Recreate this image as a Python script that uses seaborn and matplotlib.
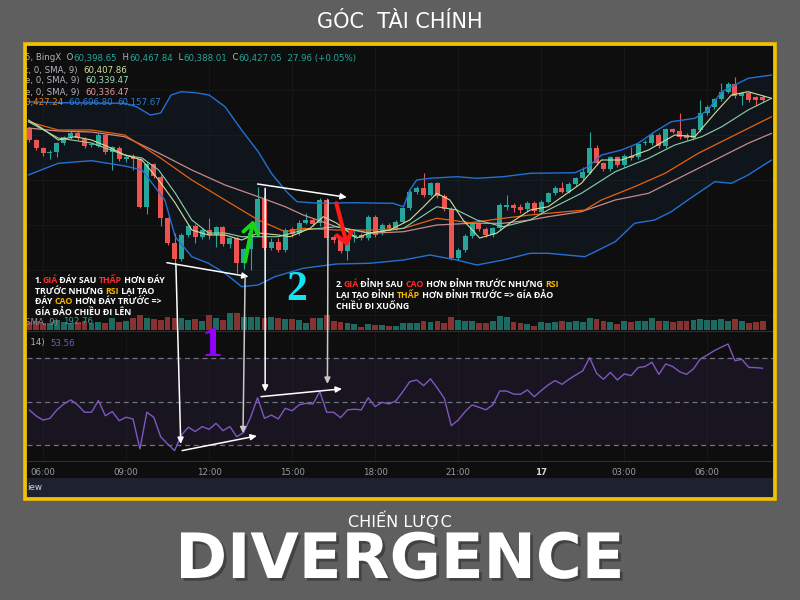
import numpy as np
import matplotlib
matplotlib.use("Agg")
import matplotlib.pyplot as plt
import seaborn as sns
from matplotlib.patches import Rectangle, ConnectionPatch
import matplotlib.patheffects as pe

# ---------------- data (15m candles, price in chart units) ----------------
candle_open = [171.7,160,151.7,146.7,148.3,156.7,162.7,167.3,161,155,
               154,165,148.3,152,140.7,143.3,140.7,92.7,136,123.3,
               81.7,57.3,40.7,65,74.3,63.3,70,65,72.7,56,
               62,37.3,50.7,66.7,100.7,51.7,58.3,50,71,66.7,
               77.3,80,76.7,100,63,61,49.3,63,65,61.7,
               83,66.7,75,71.7,78.3,91.7,108.3,112,105,116.7,
               104,90.7,41.7,50,64,76,70.7,65,71.7,93,
               95,93.3,90.7,97.3,88.3,98.3,106.7,112.3,108.3,116,
               121.7,127.3,151.7,136.7,130.7,142.7,135,144,142.7,156.7,
               157.3,165,154,170.7,169.3,165,161.7,170,186.7,192.7,
               200.7,208.3,216,204,206.7,202.7,203.3]
candle_high = [173,161,153,150,158,164,169,170,163,157,
               167,166,154,154,145,146,142,138,137,125,
               83,67,67,76,76,72,82,74,74,63,
               63,52,70,113,104,62,62,72,73,80,
               87,82,102,102,65,63,64,70,67,85,
               85,77,77,80,93,110,114,127,118,118,
               106,93,52,66,78,78,73,73,97,105,
               97,96,99,99,100,108,114,118,118,123,
               133,168,155,138,144,144,146,153,158,160,
               167,167,172,172,187,167,172,200,195,202,
               217,218,223,208,208,204,205]
candle_low = [158,150,144,140.7,143,155,161,160,152,153,
              153,146,130,139,138,130,92,86,122,74,
              55,37,39,63,57,61,61,53,54,52,
              27,31,30,64,50,50,48,48,63,65,
              76,74,74,60,57,47,40,58,60,60,
              63,65,70,70,77,90,106,103,104,102,
              89,40,40,48,62,69,63,63,70,90,
              88,87,89,87,86,97,105,107,107,114,
              120,126,135,129,129,133,133,140,141,155,
              155,152,152,167,161,160,160,168,185,191,
              199,207,202,195,198,195,198]
candle_close = [160,151.7,146.7,148.3,156.7,162.7,167.3,161.7,154,155.5,
                165,148.3,152.7,140.7,143.3,140.7,92.7,136,124,81.7,
                57.3,40.7,65,74.3,63.3,70,65,72.7,56,61.7,
                37.3,50.7,66.7,100.7,51.7,58.3,50,70,66,77.3,
                80,76,100,61.7,60,49.3,62,65,62,83,
                65,75,71.7,78.3,91.7,108.3,112,105,116.7,104,
                90.7,41.7,50,64,76,70.7,65,71.7,95,95,
                91.7,90,97.3,89.3,98.3,106.7,112.3,108.3,116,121.7,
                128.3,151.7,136.7,130.7,142.7,135,144,141.7,156,158.3,
                165,154,170.7,168.3,163.3,161.7,170.7,186.7,193.3,200.7,
                208.3,216,204,206.7,200,200,200]
volume = [25,28,22,20,30,25,22,24,26,22,
          25,22,35,25,28,35,45,35,32,30,
          40,35,35,30,32,28,45,35,30,52,
          52,40,40,40,35,38,35,32,32,30,
          22,35,35,45,28,25,20,18,10,18,
          15,15,12,12,22,22,22,27,23,27,
          20,38,30,27,27,20,20,28,42,40,
          23,22,18,13,23,22,23,27,25,27,
          25,35,33,28,24,18,28,23,27,27,
          35,28,27,23,28,28,30,33,30,30,
          33,28,33,27,22,23,27]
rsi14 = [46.2,43.4,41.5,42.3,46.2,48.9,50.8,48.5,45.1,45.1,
         50.5,43.5,45.4,41.2,42.8,42.0,28.2,45.1,42.8,33.8,
         30.5,27.4,34.6,38.2,36.2,38.5,37.2,40.0,36.6,38.5,
         33.8,35.8,42.8,51.8,42.3,43.8,42.0,46.9,45.8,48.5,
         49.2,48.9,54.6,45.1,45.1,42.6,46.2,46.5,46.2,51.8,
         47.7,49.7,48.9,50.4,54.6,59.2,60.0,57.4,60.5,56.2,
         51.5,38.9,41.5,45.4,48.5,47.4,46.2,48.5,54.9,54.9,
         53.5,53.4,55.4,52.3,55.1,57.7,59.7,58.0,60.3,62.3,
         64.2,70.3,63.1,60.3,63.5,60.0,62.8,62.0,65.7,66.2,
         68.2,62.6,67.4,66.2,63.8,62.6,65.1,69.7,71.5,73.5,
         75.1,76.6,68.9,69.5,65.8,65.7,65.4]

bb_upper_t = [-0.2,4,9,13.8,15.5,17.5,19,20.5,22,24,26,28.3,30.7,33.1,35,37.2,38.7,42,46.8,52.6,
              54.1,55,56,57.9,61.8,64.7,68.5,72.4,78.9,80.8,82.7,85.6,88,90.4,92.8,96.2,98.1,100.1,103.9,107.3]
bb_upper = [198.3,197.3,197,196.7,193.3,185,187,205,208.3,207.3,205,193.3,170,148.3,126.7,108.3,98.3,96.7,97.3,96.7,
            93.3,110,120,121.7,123.3,121.7,123.3,126.7,127.3,133.3,145,150,156.7,168.3,178.3,181.7,190,208.3,221.7,225]
bb_lower_t = [-0.13,4.2,9,13.8,16.3,19.6,21.1,23.5,25.9,28.3,30.7,33.1,35.5,39.6,44.4,49.2,54.1,57.9,61.8,64.7,
              68.5,72.4,75,80.3,81.8,84.7,87.5,90.4,92.8,95.2,99.1,101.5,103.9,107.3]
bb_lower = [125,136.7,139.3,134,130,100,63.3,43.3,36.7,26.7,13.3,15,23.3,31.7,36,36.7,40,45,40,35,
            40,46.7,46.7,43.3,48.3,58.3,76.7,80,88.3,100,118.3,116.7,125,140]
bb_basis_t = [-0.13,4.2,9,13.8,18.7,23.5,28.3,33.1,37,39.6,44.4,49.2,54.1,58.9,63.7,68.5,72.4,75,80.3,82.7,
              87.5,91.9,96.7,101.5,107.3]
bb_basis = [178.3,170,170,165,143.3,120,100,80,68.3,71.7,70,70,71.7,81.7,77.3,81.7,85,86.7,90,100,
            113.3,126.7,146.7,163.3,183.3]
sma_slow_t = [-0.13,4.2,9,13.8,18.7,23.5,28.3,33.1,37,39.6,44.4,49.2,54.1,58.9,63.7,68.5,72.4,75,79.8,84.7,
              89.5,94.3,99.1,103.9,107.3]
sma_slow = [172,169,168,163.3,147,130,115,103.3,93.3,85,73.3,66.7,68.3,75,76.7,76.7,80,83.3,88.3,100,
            106.7,123.3,140,156.7,166.7]
sma_fast_t = [-0.13,1.8,4.2,6.6,9,11.4,13.8,16.3,18.7,21.1,23.5,25.9,28.3,30.7,33.1,36,37.7,40.6,42.5,44.4,
              47.3,49.2,52.1,55,57,58.9,60.8,62.7,65.1,67.6,69.5,72.4,75,79.8,82.7,85.6,89.5,93.3,96.2,99.1,
              101.5,103.9,107.3]
sma_fast = [180,172,160,163.3,160,153.3,145,140,120,97,70,65,65,60,67,65,63.3,71.7,83.3,77,
            62,67,70,80,93.3,106.7,100,80,62,67,77,90,93.3,116.7,140,140,150,165,163.3,186.7,
            205,208.3,201.7]
sma_mid_t = [-0.13,4.2,9,13.8,16.3,18.7,21.1,23.5,25.9,28.3,30.7,33.1,36,39.6,44.4,49.2,54.1,58.9,61.8,64.7,
             68.5,72.4,75,79.8,84.7,89.5,93.3,97.2,100.1,103.9,107.3]
sma_mid = [178.3,162,157,145,142,130,107,80,67,67,63.3,63.3,63.3,70,73.3,67,71.7,93.3,90,80,
           73.3,80,90,106.7,128.3,141.7,155,163.3,173.3,190,201.7]

time_ticks = [2, 14, 26, 38, 50, 62, 74, 86, 98]
time_labels = ["06:00", "09:00", "12:00", "15:00", "18:00", "21:00", "17", "03:00", "06:00"]

# ---------------- style ----------------
sns.set_theme(style="dark")
plt.rcParams['font.family'] = ['DejaVu Sans']
plt.rcParams['axes.unicode_minus'] = False

W, H = 800, 600
fig = plt.figure(figsize=(8, 6), dpi=100, facecolor='#5f5f5f')


def fx(x):
    return x / W


def fy(y):
    return 1 - y / H


def box(x0, y0, x1, y1):
    return [fx(x0), fy(y1), (x1 - x0) / W, (y1 - y0) / H]


fig.add_artist(Rectangle((fx(27), fy(497)), 746 / W, 451 / H, transform=fig.transFigure,
                         facecolor='#0e0e0e', edgecolor='none', zorder=-2))
fig.add_artist(Rectangle((fx(27), fy(497)), 746 / W, 19 / H, transform=fig.transFigure,
                         facecolor='#1e2130', edgecolor='none', zorder=-1))

XL = (-0.32, 107.5)
GREEN, REDC = '#26a69a', '#ef5350'
o = np.array(candle_open); h = np.array(candle_high)
l = np.array(candle_low); c = np.array(candle_close)
idx = np.arange(len(o))
up = c >= o
ccol = np.where(up, GREEN, REDC)

# ---------------- price panel ----------------
axp = fig.add_axes(box(27, 46, 773, 331))
axp.set_facecolor('#0e0e0e')
axp.fill(np.r_[bb_upper_t, bb_lower_t[::-1]], np.r_[bb_upper, bb_lower[::-1]],
         color='#2196f3', alpha=0.06, lw=0, zorder=1)
axp.vlines(idx, l, h, colors=ccol, lw=0.8, zorder=2)
axp.bar(idx, np.maximum(np.abs(c - o), 0.7), bottom=np.minimum(o, c), width=0.72,
        color=ccol, linewidth=0, zorder=3)
for tt, vv, col, lw in [(bb_upper_t, bb_upper, '#2470d2', 1.0),
                        (bb_lower_t, bb_lower, '#2470d2', 1.0),
                        (sma_slow_t, sma_slow, '#c78a8a', 0.9),
                        (bb_basis_t, bb_basis, '#e8620c', 0.9),
                        (sma_mid_t, sma_mid, '#8fd1aa', 0.8),
                        (sma_fast_t, sma_fast, '#cfe095', 0.8)]:
    sns.lineplot(x=tt, y=vv, ax=axp, color=col, lw=lw, zorder=4, estimator=None)
axp.set_xlim(*XL)
axp.set_ylim(-31, 254)
for s in axp.spines.values():
    s.set_visible(False)
axp.set_xticks(time_ticks)
axp.set_yticks([-15, 30, 75, 120, 165, 210])
axp.tick_params(length=0, labelbottom=False, labelleft=False)
axp.grid(True, color='#181818', lw=0.6)
axp.set_xlabel(''); axp.set_ylabel('')

# ---------------- volume ----------------
axv = fig.add_axes(box(27, 300, 773, 330))
axv.bar(idx, volume, width=0.84, color=np.where(up, '#1d6b60', '#873232'), linewidth=0)
axv.set_xlim(*XL)
axv.set_ylim(0, 90)
axv.axis('off')

# ---------------- RSI ----------------
axr = fig.add_axes(box(27, 331, 773, 461))
axr.set_facecolor('#0e0e0e')
axr.axhspan(30, 70, color='#7e57c2', alpha=0.10, lw=0)
for lv in (70, 50, 30):
    axr.axhline(lv, color='#6f7280', lw=0.9, ls=(0, (4, 3)))
sns.lineplot(x=idx, y=rsi14, ax=axr, color='#7e57c2', lw=1.0, estimator=None)
axr.set_xlim(*XL)
axr.set_ylim(22.6, 82.6)
for k, s in axr.spines.items():
    s.set_visible(k in ('top', 'bottom'))
    s.set_color('#2a2e39'); s.set_linewidth(0.8)
axr.set_xticks(time_ticks)
axr.set_xticklabels(time_labels)
axr.set_yticks([])
axr.tick_params(axis='x', length=0, pad=5, labelsize=6.2, labelcolor='#9a9da6')
for lab in axr.get_xticklabels():
    if lab.get_text() == '17':
        lab.set_fontweight('bold'); lab.set_color('#d1d4dc')
axr.grid(True, axis='x', color='#181818', lw=0.6)
axr.set_xlabel(''); axr.set_ylabel('')

# ---------------- divergence annotations ----------------
head = '-|>,head_length=0.45,head_width=0.22'
for ax, p0, p1 in [(axp, (19.9, 37.3), (31.7, 23.3)), (axp, (33.0, 116), (45.9, 102.7)),
                   (axr, (22.1, 27.4), (32.9, 34.2)), (axr, (33.5, 52.3), (45.2, 55.9))]:
    ax.annotate('', xy=p1, xytext=p0, zorder=8,
                arrowprops=dict(arrowstyle=head, color='white', lw=1.1,
                                shrinkA=0, shrinkB=0, mutation_scale=8))
for pa, pb, col in [((21.2, 36), (21.9, 30.5), 'white'), ((31.2, 23), (30.9, 35.4), '#c8c8c8'),
                    ((34.1, 111.7), (34.1, 54.6), 'white'), ((43.2, 100), (43.1, 58.2), '#c8c8c8')]:
    con = ConnectionPatch(xyA=pa, coordsA=axp.transData, xyB=pb, coordsB=axr.transData,
                          arrowstyle=head, mutation_scale=8, color=col, lw=1.1,
                          shrinkA=0, shrinkB=0, zorder=6)
    fig.add_artist(con)
axp.annotate('', xy=(32.4, 80), xytext=(31.2, 38.3), zorder=9,
             arrowprops=dict(arrowstyle='->,head_length=0.6,head_width=0.45', color='#19d419',
                             lw=2.8, mutation_scale=12, shrinkA=0, shrinkB=0))
axp.annotate('', xy=(46.0, 53.3), xytext=(44.4, 96.7), zorder=9,
             arrowprops=dict(arrowstyle='->,head_length=0.6,head_width=0.45', color='#ff1a1a',
                             lw=3.0, mutation_scale=12, shrinkA=0, shrinkB=0))

# ---------------- texts ----------------
renderer = fig.canvas.get_renderer()


def measure(s, **kw):
    if not s:
        return 0.0
    t1 = fig.text(0, 0, '|' + s + '|', **kw)
    w1 = t1.get_window_extent(renderer).width
    t1.remove()
    t2 = fig.text(0, 0, '||', **kw)
    w2 = t2.get_window_extent(renderer).width
    t2.remove()
    return w1 - w2


def rich(x, y, segs, **kw):
    done = ''
    for s, col in segs:
        dx = measure(done, **kw)
        fig.text(fx(x + dx), fy(y), s, color=col, ha='left', va='center', zorder=12, **kw)
        done += s


WH, RD, YL = 'white', '#ff2a2a', '#f7b500'
ann_kw = dict(fontsize=6.35, fontweight='bold', family=['Open Sans', 'DejaVu Sans'])
rich(35, 281, [('1.', WH), ('GIÁ', RD), (' ĐÁY SAU ', WH), ('THẤP', RD), (' HƠN ĐÁY', WH)], **ann_kw)
rich(35, 291.5, [('TRƯỚC NHƯNG ', WH), ('RSI', YL), (' LẠI TẠO', WH)], **ann_kw)
rich(35, 302, [('ĐÁY ', WH), ('CAO', YL), (' HƠN ĐÁY TRƯỚC =>', WH)], **ann_kw)
rich(35, 312.5, [('GÍA ĐẢO CHIỀU ĐI LÊN', WH)], **ann_kw)
rich(336, 284.3, [('2.', WH), ('GIÁ', RD), (' ĐỈNH SAU ', WH), ('CAO', RD),
                  (' HƠN ĐỈNH TRƯỚC NHƯNG ', WH), ('RSI', YL)], **ann_kw)
rich(336, 295.7, [('LẠI TẠO ĐỈNH ', WH), ('THẤP', YL), (' HƠN ĐỈNH TRƯỚC => GÍA ĐẢO', WH)], **ann_kw)
rich(336, 306.7, [('CHIỀU ĐI XUỐNG', WH)], **ann_kw)

num_kw = dict(fontsize=30, fontweight='bold', family=['Liberation Serif', 'DejaVu Serif'],
              ha='center', va='center', zorder=12)
fig.text(fx(212), fy(346), '1', color='#9400ff', **num_kw)
fig.text(fx(297), fy(290), '2', color='#12e4f2', **num_kw)

# legend texts
GR = '#b2b5be'
leg_kw = dict(fontsize=6.2)
rich(25, 58, [('5, BingX  O', GR), ('60,398.65', GREEN), ('  H', GR), ('60,467.84', GREEN),
              ('  L', GR), ('60,388.01', GREEN), ('  C', GR), ('60,427.05', GREEN),
              ('  27.96 (+0.05%)', GREEN)], **leg_kw)
rich(25, 70, [('t, 0, SMA, 9)  ', GR), ('60,407.86', '#cfe39a')], **leg_kw)
rich(25, 81, [('e, 0, SMA, 9)  ', GR), ('60,339.47', '#9fdcb9')], **leg_kw)
rich(25, 92, [('e, 0, SMA, 9)  ', GR), ('60,336.47', '#e09a9a')], **leg_kw)
rich(25, 103, [('0,427.24  ', '#f57c00'), ('60,696.80  ', '#2a7ed8'), ('60,157.67', '#2a7ed8')], **leg_kw)
rich(25, 322, [('SMA, 9)  ', '#8a8d96'), ('192.76', GREEN)], **leg_kw)
rich(25, 343, [(', 14)  ', GR), ('53.56', '#7e57c2')], **leg_kw)
fig.text(fx(27), fy(488), 'iew', color='#d1d4dc', fontsize=6.3, va='center', ha='left', zorder=12)

# frame and titles
fig.add_artist(Rectangle((fx(25), fy(499)), 750 / W, 455 / H, transform=fig.transFigure,
                         fill=False, edgecolor='#f2c200', lw=2.6, zorder=20))
fig.text(0.5, fy(22), 'GÓC  TÀI CHÍNH', color='white', fontsize=15, ha='center', va='center')
fig.text(0.5, fy(520), 'CHIẾN LƯỢC', color='white', fontsize=11.5, ha='center', va='center')
fig.text(0.5, fy(561), 'DIVERGENCE', color='white', fontsize=45, fontweight='bold',
         ha='center', va='center',
         path_effects=[pe.withSimplePatchShadow(offset=(2, -2), shadow_rgbFace='black', alpha=0.3)])

fig.savefig('out.png', dpi=100, facecolor=fig.get_facecolor())
